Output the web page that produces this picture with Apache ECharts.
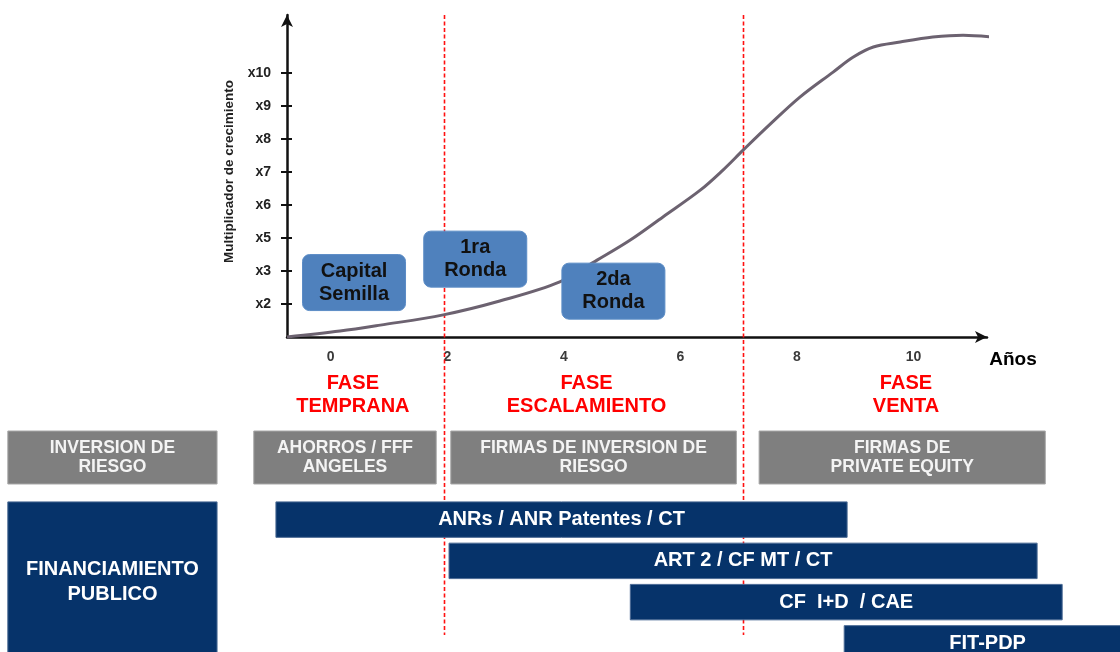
<!DOCTYPE html>
<html>
<head>
<meta charset="utf-8">
<script src="https://cdn.jsdelivr.net/npm/echarts@6/dist/echarts.min.js"></script>
<style>
  html, body { margin: 0; padding: 0; background: #ffffff; }
  #chart { width: 1120px; height: 652px; }
</style>
</head>
<body>
<div id="chart"></div>
<script>
// ---- Data ----
const yearTicks = [0, 2, 4, 6, 8, 10];
const multiplierTicks = [1, 2, 3, 4, 5, 6, 7, 8];
const multiplierLabels = ['x2', 'x3', 'x5', 'x6', 'x7', 'x8', 'x9', 'x10'];

// Growth curve (years, multiplier level)
const growthYears = [-0.75, 0.16, 0.85, 1.93, 2.90, 3.93, 4.57, 5.14, 5.70, 6.34, 6.73, 7.08, 7.54, 8.05, 8.62, 8.96, 9.31, 9.77, 10.33, 10.85, 11.37];
const growthLevels = [0, 0.18, 0.36, 0.67, 1.09, 1.67, 2.33, 2.94, 3.64, 4.45, 5.06, 5.67, 6.45, 7.27, 8.03, 8.48, 8.79, 8.94, 9.09, 9.15, 9.09];

// Phases
const phaseBounds = [1.94, 7.07];
const phaseNames = ['FASE\nTEMPRANA', 'FASE\nESCALAMIENTO', 'FASE\nVENTA'];
const phaseCenters = [0.38, 4.39, 9.87];

// Funding rounds
const roundNames = ['Capital\nSemilla', '1ra\nRonda', '2da\nRonda'];
const roundYears = [0.40, 2.48, 4.85];
const roundLevels = [1.65, 2.36, 1.39];

// Investor types (year ranges)
const investorLabels = ['INVERSION DE\nRIESGO', 'AHORROS / FFF\nANGELES', 'FIRMAS DE INVERSION DE\nRIESGO', 'FIRMAS DE\nPRIVATE EQUITY'];
const investorStart = [-5.54, -1.32, 2.06, 7.35];
const investorEnd = [-1.95, 1.81, 6.96, 12.26];

// Public funding instruments (year ranges, rows)
const fundingLabels = ['FINANCIAMIENTO\nPUBLICO', 'ANRs / ANR Patentes / CT', 'ART 2 / CF MT / CT', 'CF  I+D  / CAE', 'FIT-PDP'];
const fundingStart = [-5.54, -0.94, 2.03, 5.14, 8.81];
const fundingEnd = [-1.95, 8.86, 12.12, 12.55, 13.73];
const fundingRowFirst = [0, 0, 1, 2, 3];
const fundingRowLast = [3, 0, 1, 2, 3];

// ---- Layout ----
const W = 1120, H = 652;
const PLOT_LEFT = 287, PLOT_RIGHT = 987, PLOT_TOP = 15, BASELINE = 337;
const YEAR_MIN = -0.75, YEAR_MAX = 11.26;
const LEVEL_MAX = 9.76;
const yearsPerPx = (YEAR_MAX - YEAR_MIN) / (PLOT_RIGHT - PLOT_LEFT);
const FULL_MIN = YEAR_MIN - PLOT_LEFT * yearsPerPx;
const FULL_MAX = YEAR_MAX + (W - PLOT_RIGHT) * yearsPerPx;
const ROW_TOP = 499, ROW_PITCH = 41.25;
const ROW_MAX = -0.5 + (H - ROW_TOP) / ROW_PITCH;
const FONT = "'Liberation Sans', Arial, Helvetica, sans-serif";

const chart = echarts.init(document.getElementById('chart'), null, { renderer: 'canvas' });

const option = {
  animation: false,
  backgroundColor: '#ffffff',
  grid: [
    { left: PLOT_LEFT, right: W - PLOT_RIGHT, top: PLOT_TOP, bottom: H - BASELINE },
    { left: 0, right: 0, top: 431, height: 53 },
    { left: 0, right: 0, top: ROW_TOP, bottom: 0 }
  ],
  xAxis: [
    {
      gridIndex: 0, type: 'value', min: YEAR_MIN, max: YEAR_MAX,
      axisLine: { show: true, onZero: false, symbol: ['none', 'arrow'], symbolSize: [9, 12], lineStyle: { color: '#111', width: 2.5 } },
      axisTick: { show: false },
      splitLine: { show: false },
      axisLabel: {
        customValues: yearTicks, margin: 13,
        color: '#3a3a3a', fontSize: 14, fontWeight: 'bold', fontFamily: FONT
      }
    },
    { gridIndex: 1, type: 'value', min: FULL_MIN, max: FULL_MAX, show: false },
    { gridIndex: 2, type: 'value', min: FULL_MIN, max: FULL_MAX, show: false }
  ],
  yAxis: [
    {
      gridIndex: 0, type: 'value', min: 0, max: LEVEL_MAX,
      name: 'Multiplicador de crecimiento', nameLocation: 'middle', nameGap: 51,
      nameTextStyle: { color: '#222', fontSize: 13.5, fontWeight: 'bold', fontFamily: FONT, padding: [0, 0, 0, 9] },
      axisLine: { show: true, onZero: false, symbol: ['none', 'arrow'], symbolSize: [9, 12], lineStyle: { color: '#111', width: 2.5 } },
      axisTick: { show: true, customValues: multiplierTicks, length: 6, lineStyle: { color: '#111', width: 2 } },
      splitLine: { show: false },
      axisLabel: {
        customValues: multiplierTicks, margin: 16,
        formatter: v => multiplierLabels[multiplierTicks.indexOf(v)],
        color: '#222', fontSize: 14, fontWeight: 'bold', fontFamily: FONT
      }
    },
    {
      gridIndex: 0, type: 'value', min: 0, max: LEVEL_MAX, position: 'left',
      axisLine: { show: false, onZero: false },
      axisTick: { show: true, inside: true, customValues: multiplierTicks, length: 5, lineStyle: { color: '#111', width: 2 } },
      axisLabel: { show: false },
      splitLine: { show: false }
    },
    { gridIndex: 1, type: 'category', data: ['h'], show: false },
    { gridIndex: 2, type: 'value', min: -0.5, max: ROW_MAX, inverse: true, show: false }
  ],
  series: [
    {
      name: 'Crecimiento',
      type: 'line',
      xAxisIndex: 0, yAxisIndex: 0,
      data: growthYears.map((x, i) => [x, growthLevels[i]]),
      smooth: 0.35,
      showSymbol: false,
      clip: false,
      lineStyle: { color: '#6c6270', width: 3 },
      z: 3
    },
    {
      name: 'Rondas',
      type: 'custom',
      xAxisIndex: 0, yAxisIndex: 0,
      clip: false,
      data: roundYears.map((x, i) => [x, roundLevels[i]]),
      z: 5,
      renderItem: (params, api) => {
        const c = api.coord([api.value(0), api.value(1)]);
        const w = 103, h = 56;
        return {
          type: 'rect',
          shape: { x: c[0] - w / 2, y: c[1] - h / 2, width: w, height: h, r: 7 },
          style: { fill: '#4f81bd', stroke: '#5b8cc6', lineWidth: 1 },
          textContent: {
            style: {
              text: roundNames[params.dataIndex], fill: '#111',
              font: 'bold 20px ' + FONT, align: 'center', lineHeight: 23
            }
          },
          textConfig: { position: 'inside' }
        };
      }
    },
    {
      name: 'Inversores',
      type: 'custom',
      xAxisIndex: 1, yAxisIndex: 2,
      encode: { x: [0, 1], y: 2 },
      data: investorStart.map((s, i) => [s, investorEnd[i], 0]),
      renderItem: (params, api) => {
        const p0 = api.coord([api.value(0), 0]);
        const p1 = api.coord([api.value(1), 0]);
        const h = api.size([0, 1])[1];
        return {
          type: 'rect',
          shape: { x: p0[0], y: p0[1] - h / 2, width: p1[0] - p0[0], height: h },
          style: { fill: '#7f7f7f', stroke: '#a8a8a8', lineWidth: 1 },
          textContent: {
            style: {
              text: investorLabels[params.dataIndex], fill: '#f4f4f4',
              font: 'bold 17.5px ' + FONT, align: 'center', lineHeight: 19
            }
          },
          textConfig: { position: 'inside' }
        };
      }
    },
    {
      name: 'Financiamiento',
      type: 'custom',
      xAxisIndex: 2, yAxisIndex: 3,
      encode: { x: [0, 1], y: [2, 3] },
      data: fundingStart.map((s, i) => [s, fundingEnd[i], fundingRowFirst[i], fundingRowLast[i]]),
      clip: false,
      z: 4,
      renderItem: (params, api) => {
        const band = api.size([0, 1])[1];
        const pad = 2.9;
        const a = api.coord([api.value(0), api.value(2)]);
        const b = api.coord([api.value(1), api.value(3)]);
        const top = a[1] - band / 2 + pad;
        const bottom = b[1] + band / 2 - pad;
        const block = api.value(3) > api.value(2);
        return {
          type: 'rect',
          shape: { x: a[0], y: top, width: b[0] - a[0], height: bottom - top },
          style: { fill: '#06336a', stroke: '#4a6a94', lineWidth: 1 },
          textContent: {
            style: {
              text: fundingLabels[params.dataIndex], fill: '#ffffff',
              font: 'bold 20px ' + FONT, align: 'center',
              lineHeight: block ? 25 : 22
            }
          },
          textConfig: { position: 'inside' }
        };
      }
    }
  ]
};

chart.setOption(option);

// Annotations placed through the year / level scales
const xPx = v => chart.convertToPixel({ xAxisIndex: 0 }, v);
const yPx = v => chart.convertToPixel({ yAxisIndex: 0 }, v);
const axisY = yPx(0);
const graphics = [];

phaseBounds.forEach(v => {
  const x = Math.round(xPx(v)) + 0.5;
  graphics.push({
    type: 'line', z: 1,
    shape: { x1: x, y1: PLOT_TOP, x2: x, y2: 635 },
    style: { stroke: '#ff1010', lineWidth: 1.6, lineDash: [4, 2.5] }
  });
});

phaseNames.forEach((t, i) => {
  graphics.push({
    type: 'text', z: 6,
    x: xPx(phaseCenters[i]), y: axisY + 57.5,
    style: {
      text: t, fill: '#ff0000', font: 'bold 20px ' + FONT,
      align: 'center', verticalAlign: 'middle', lineHeight: 23
    }
  });
});

graphics.push({
  type: 'text', z: 6,
  x: xPx(YEAR_MAX) + 26, y: axisY + 23,
  style: {
    text: 'Años', fill: '#000', font: 'bold 19px ' + FONT,
    align: 'center', verticalAlign: 'middle'
  }
});

chart.setOption({ graphic: graphics });
</script>
</body>
</html>
